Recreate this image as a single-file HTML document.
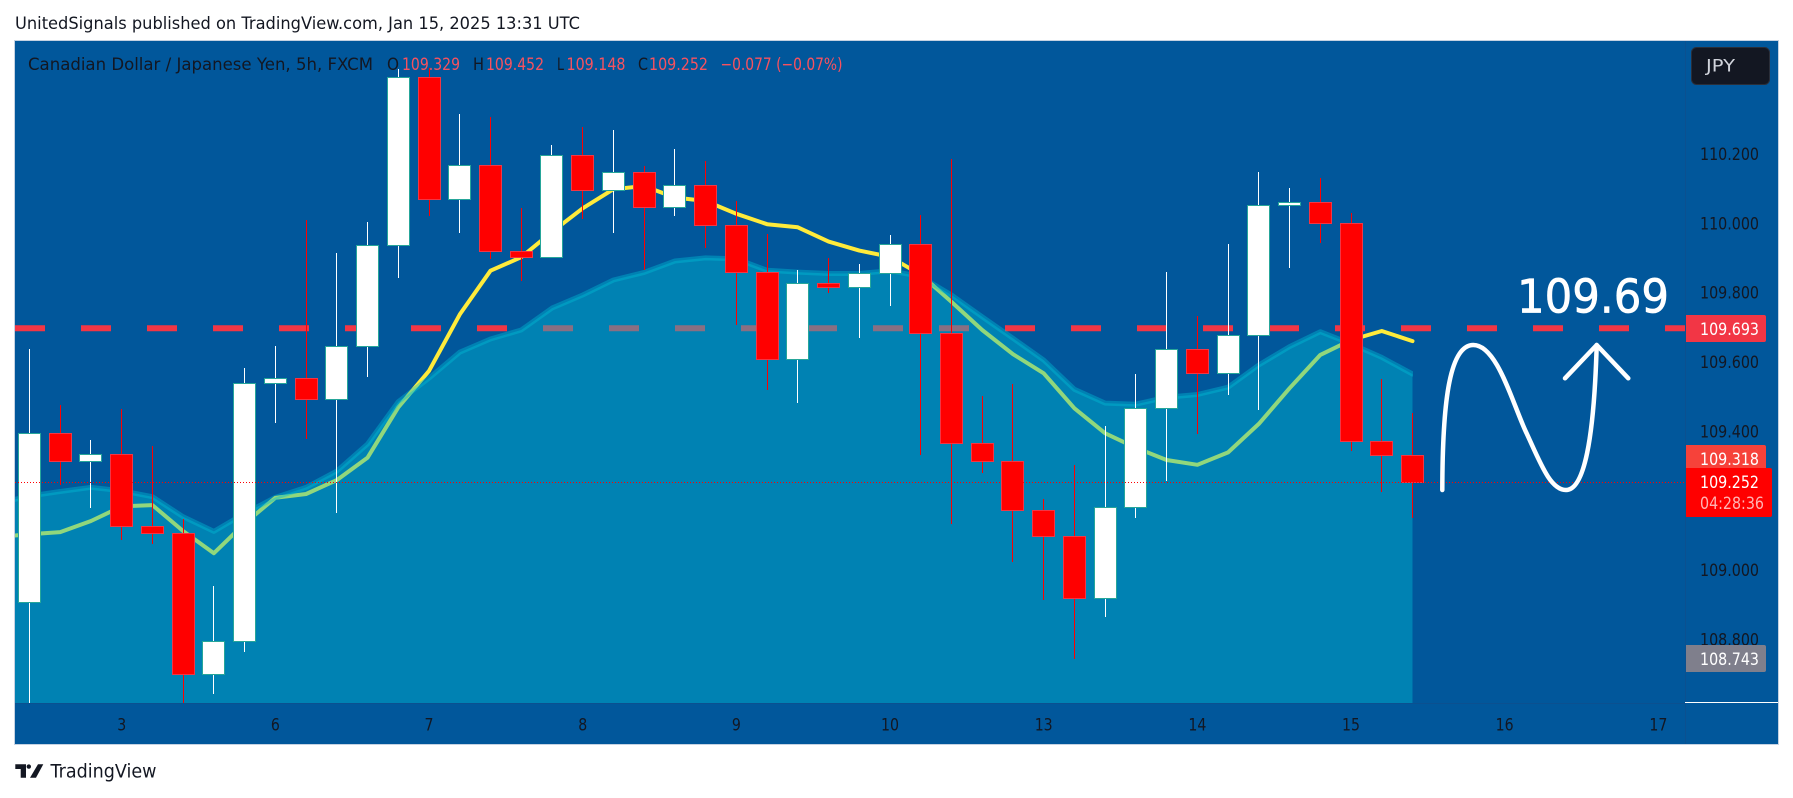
<!DOCTYPE html>
<html lang="en">
<head>
<meta charset="utf-8">
<title>CAD/JPY 5h chart</title>
<style>
html,body{margin:0;padding:0;background:#fff;width:1793px;height:798px;overflow:hidden}
svg{display:block}
text{font-family:"DejaVu Sans","Liberation Sans",sans-serif}
</style>
</head>
<body>
<svg id="chart" xmlns="http://www.w3.org/2000/svg" width="1793" height="798" viewBox="0 0 1793 798">
  <defs>
    <clipPath id="pane-clip"><rect x="15" y="41" width="1670" height="662"/></clipPath>
    <clipPath id="area-clip"><rect x="15" y="41" width="1398" height="662"/></clipPath>
  </defs>
  <rect x="0" y="0" width="1793" height="798" fill="#ffffff"/>
  <text x="15" y="29" font-size="17" fill="#131722" textLength="565" lengthAdjust="spacingAndGlyphs">UnitedSignals published on TradingView.com, Jan 15, 2025 13:31 UTC</text>

  <rect x="15" y="41" width="1763" height="703" fill="#01579b"/>
  <rect x="14.5" y="40.5" width="1764" height="704" fill="none" stroke="#c5d2e2" stroke-width="1"/>

  <g id="under-layer" clip-path="url(#pane-clip)"></g>
  <g id="area-layer" clip-path="url(#area-clip)"></g>
  <g id="candle-layer" clip-path="url(#pane-clip)"></g>
  <g id="price-line-layer"></g>

  <rect x="15" y="703" width="1670" height="1" fill="#0b5090"/>
  <rect x="1685" y="41" width="1" height="703" fill="#0b5090"/>
  <rect x="1685" y="702" width="93" height="1" fill="#ffffff"/>

  <g id="axis-layer"></g>

  <g>
    <text x="28" y="70" font-size="17" fill="#131722" textLength="345" lengthAdjust="spacingAndGlyphs">Canadian Dollar / Japanese Yen, 5h, FXCM</text>
    <text x="387" y="70" font-size="17" fill="#131722" textLength="12" lengthAdjust="spacingAndGlyphs">O</text>
    <text x="402" y="70" font-size="17" fill="#f7525f" textLength="58" lengthAdjust="spacingAndGlyphs">109.329</text>
    <text x="473" y="70" font-size="17" fill="#131722" textLength="11" lengthAdjust="spacingAndGlyphs">H</text>
    <text x="486" y="70" font-size="17" fill="#f7525f" textLength="58" lengthAdjust="spacingAndGlyphs">109.452</text>
    <text x="557" y="70" font-size="17" fill="#131722" textLength="7" lengthAdjust="spacingAndGlyphs">L</text>
    <text x="566.5" y="70" font-size="17" fill="#f7525f" textLength="59" lengthAdjust="spacingAndGlyphs">109.148</text>
    <text x="638" y="70" font-size="17" fill="#131722" textLength="10" lengthAdjust="spacingAndGlyphs">C</text>
    <text x="649" y="70" font-size="17" fill="#f7525f" textLength="59" lengthAdjust="spacingAndGlyphs">109.252</text>
    <text x="720.5" y="70" font-size="17" fill="#f7525f" textLength="122" lengthAdjust="spacingAndGlyphs">−0.077 (−0.07%)</text>
  </g>

  <g>
    <rect x="1691.5" y="47.5" width="78" height="37" rx="5" fill="#131722" stroke="#2a2e39"/>
    <text x="1706" y="71.5" font-size="17" fill="#d1d4dc" textLength="29" lengthAdjust="spacingAndGlyphs">JPY</text>
  </g>

  <g>
    <text x="1517" y="312.5" font-size="46" fill="#ffffff" stroke="#ffffff" stroke-width="0.7" textLength="152" lengthAdjust="spacingAndGlyphs">109.69</text>
    <path d="M1442.3 490 C1442.5 410 1448 345 1473.3 345 C1497 345 1512 402 1526 432 C1540 462 1550 490 1566 490 C1584 490 1594 440 1596.7 345" fill="none" stroke="#ffffff" stroke-width="4.5" stroke-linecap="round" stroke-linejoin="round"/>
    <path d="M1565 378.3 L1596.7 345 L1628.3 378.3" fill="none" stroke="#ffffff" stroke-width="4.5" stroke-linecap="round" stroke-linejoin="round"/>
  </g>

  <g id="tag-layer"></g>

  <g>
    <path d="M15.3 764.3H26V777.7H20.7V769H15.3Z" fill="#131722"/>
    <circle cx="28.8" cy="766.6" r="2.2" fill="#131722"/>
    <path d="M38 764.3H43.3L36 777.7H30Z" fill="#131722"/>
    <text x="50.5" y="777.7" font-size="18.5" fill="#131722" textLength="106" lengthAdjust="spacingAndGlyphs">TradingView</text>
  </g>
</svg>

<script>
var opens = [108.906,109.393,109.312,109.332,109.125,109.105,108.698,108.795,109.537,109.552,109.493,109.644,109.935,110.420,110.068,110.166,109.920,109.901,110.195,110.094,110.146,110.047,110.108,109.995,109.857,109.606,109.826,109.814,109.854,109.940,109.681,109.366,109.312,109.171,109.096,108.917,109.179,109.465,109.635,109.566,109.676,110.051,110.059,109.999,109.370,109.329];
var highs = [109.636,109.475,109.374,109.462,109.356,109.145,108.953,109.581,109.645,110.008,109.913,110.002,110.444,110.447,110.314,110.304,110.043,110.225,110.276,110.268,110.164,110.213,110.177,110.062,109.968,109.864,109.899,109.881,109.965,110.022,110.183,109.500,109.535,109.203,109.301,109.414,109.564,109.858,109.731,109.939,110.147,110.100,110.129,110.027,109.550,109.452];
var lows = [108.616,109.244,109.178,109.086,109.075,108.616,108.642,108.763,109.424,109.377,109.164,109.556,109.841,110.021,109.971,109.895,109.832,109.901,110.011,109.971,109.865,110.020,109.928,109.705,109.519,109.481,109.798,109.669,109.761,109.331,109.132,109.279,109.023,108.913,108.741,108.864,109.150,109.256,109.392,109.503,109.460,109.871,109.942,109.343,109.225,109.148];
var closes = [109.393,109.312,109.332,109.125,109.105,108.698,108.795,109.537,109.552,109.493,109.644,109.935,110.420,110.068,110.166,109.920,109.901,110.195,110.094,110.146,110.047,110.108,109.995,109.857,109.606,109.826,109.814,109.854,109.940,109.681,109.366,109.312,109.171,109.096,108.917,109.179,109.465,109.635,109.566,109.676,110.051,110.059,109.999,109.370,109.329,109.252];
/* moving averages start one bar before the first visible candle */
var fastAverage = [109.094,109.102,109.108,109.140,109.182,109.186,109.111,109.047,109.133,109.207,109.218,109.258,109.323,109.468,109.573,109.736,109.862,109.901,109.974,110.042,110.097,110.106,110.073,110.063,110.026,109.996,109.987,109.946,109.920,109.902,109.850,109.772,109.691,109.621,109.566,109.465,109.393,109.351,109.316,109.302,109.338,109.420,109.523,109.619,109.662,109.688,109.659];
var slowAverage = [109.192,109.212,109.225,109.237,109.227,109.210,109.152,109.110,109.162,109.208,109.237,109.284,109.362,109.484,109.552,109.627,109.665,109.691,109.754,109.792,109.835,109.857,109.890,109.899,109.896,109.863,109.858,109.854,109.854,109.862,109.845,109.792,109.729,109.667,109.604,109.520,109.480,109.477,109.497,109.505,109.526,109.590,109.643,109.686,109.651,109.612,109.564];
var priceTicks = [110.2,110.0,109.8,109.6,109.4,109.0,108.8];
var timeLabels = ["3","6","7","8","9","10","13","14","15","16","17"];
var timeBars = [3,8,13,18,23,28,33,38,43,48,53];
var targetPrice = 109.693;
var lastPrice = 109.252;
var tagPrices = [109.693,109.318,109.252,108.743];

var SVGNS = "http://www.w3.org/2000/svg";
function xScale(i){ return 29.5 + i * 30.733; }
function yScale(p){ return 153.5 + (110.2 - p) * 346.7; }
function make(tag, attrs, parent){
  var el = document.createElementNS(SVGNS, tag);
  for (var k in attrs) el.setAttribute(k, attrs[k]);
  parent.appendChild(el);
  return el;
}
function linePoints(values){
  return values.map(function(v, n){ return xScale(n - 1).toFixed(1) + "," + yScale(v).toFixed(1); }).join(" ");
}
var under = document.getElementById("under-layer");
var areaLayer = document.getElementById("area-layer");
var candleLayer = document.getElementById("candle-layer");
var priceLineLayer = document.getElementById("price-line-layer");
var axisLayer = document.getElementById("axis-layer");
var tagLayer = document.getElementById("tag-layer");

/* dashed horizontal target line */
var targetLine = make("line", {x1:15, x2:1685, y1:yScale(targetPrice)-1, y2:yScale(targetPrice)-1, stroke:"#f23645", "stroke-width":6, "stroke-dasharray":"30 36"}, under);



/* yellow moving average */
var fastLine = make("polyline", {points:linePoints(fastAverage), fill:"none", stroke:"#ffeb3b", "stroke-width":4, "stroke-linejoin":"round", "stroke-linecap":"round"}, under);



/* area series */
var lastX = xScale(slowAverage.length - 2);
var areaPts = linePoints(slowAverage) + " " + lastX.toFixed(1) + ",703 " + xScale(-1).toFixed(1) + ",703";
var areaFill = make("polygon", {points:areaPts, fill:"#00bcd4", "fill-opacity":0.43}, areaLayer);


var areaLine = make("polyline", {points:linePoints(slowAverage), fill:"none", stroke:"#00bcd4", "stroke-opacity":0.42, "stroke-width":5, "stroke-linejoin":"round", "stroke-linecap":"round"}, areaLayer);



/* candles */
opens.forEach(function(o, i){
  var c = closes[i], up = c >= o;
  var px = Math.floor(xScale(i));
  var hi = Math.round(yScale(highs[i])), lo = Math.round(yScale(lows[i]));
  var top = Math.round(yScale(Math.max(o, c))), bot = Math.round(yScale(Math.min(o, c)));
  var wick = make("rect", {x:px, y:hi, width:1, height:Math.max(lo - hi, 1), fill: up ? "#ffffff" : "#ff0000"}, candleLayer);
  
  
  var body = make("rect", {x:px - 10.5, y:top + 0.5, width:22, height:Math.max(bot - top, 1), fill: up ? "#ffffff" : "#ff0000", stroke: up ? "#26a69a" : "#f23645", "stroke-width":1}, candleLayer);
  
  
});

/* last price dotted line */
var lastLine = make("line", {x1:15, x2:1685, y1:Math.round(yScale(lastPrice)) + 0.5, y2:Math.round(yScale(lastPrice)) + 0.5, stroke:"#ff0000", "stroke-width":1, "stroke-dasharray":"1 2"}, priceLineLayer);



/* price axis ticks */
priceTicks.forEach(function(p){
  var t = make("text", {x:1700, y:yScale(p) + 6.5, "font-size":17, fill:"#131722", textLength:59, lengthAdjust:"spacingAndGlyphs"}, axisLayer);
  t.textContent = p.toFixed(3);
  
  
});

/* time axis ticks */
timeLabels.forEach(function(label, n){
  var t = make("text", {x:xScale(timeBars[n]), y:730.5, "font-size":17, fill:"#131722", "text-anchor":"middle", textLength: label.length * 9, lengthAdjust:"spacingAndGlyphs"}, axisLayer);
  t.textContent = label;
  
  
});

/* price tags */
var tagFills = ["#f23645","#f6423a","#ff0000","#7f7f8c"];
var tagWidths = [80,80,86,80];
var tagHeights = [27,27,49,27];
tagPrices.forEach(function(p, n){
  var cy = yScale(p);
  var top = Math.round(cy - 14);
  var r = make("path", {d:"M1686 " + top + "H" + (1686 + tagWidths[n] - 2) + "q2 0 2 2V" + (top + tagHeights[n] - 2) + "q0 2 -2 2H1686Z", fill:tagFills[n]}, tagLayer);
  
  
  var t = make("text", {x:1700, y:top + 20, "font-size":17, fill:"#ffffff", textLength:59, lengthAdjust:"spacingAndGlyphs"}, tagLayer);
  t.textContent = p.toFixed(3);
  
  
  if (p === lastPrice) {
    var cd = make("text", {x:1700, y:top + 41, "font-size":17, fill:"#ffb3b3", textLength:64, lengthAdjust:"spacingAndGlyphs"}, tagLayer);
    cd.textContent = "04:28:36";
    
    
  }
});
</script>
</body>
</html>
